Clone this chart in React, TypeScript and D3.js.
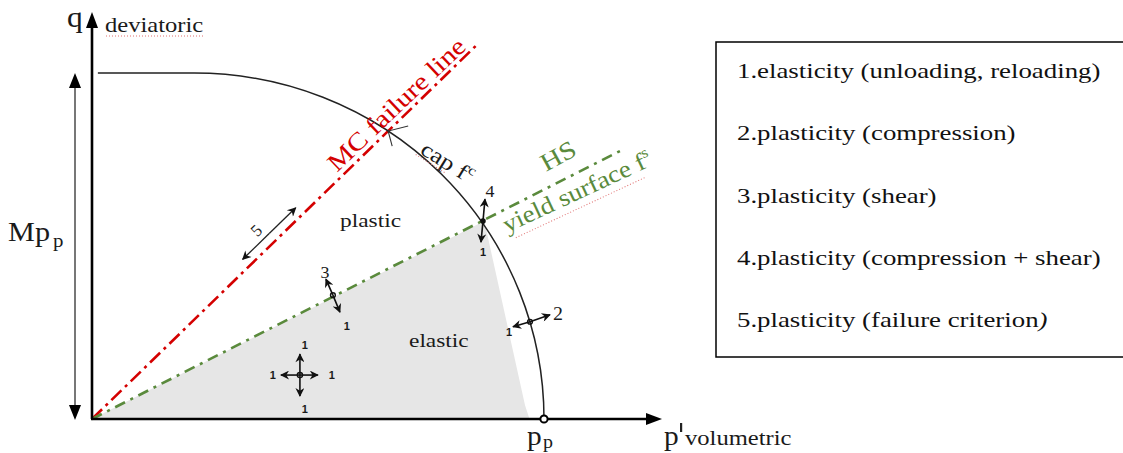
import React from 'react';
import * as d3 from 'd3';

const W = 1123;
const H = 453;

// model parameters (p' normalised by pp, q normalised by M*pp)
const pDomain = [0, 1];
const qDomain = [0, 1];
const capFlatStart = 0.013;
const capCenterP = 0.226;
const mcSlope = 1.27;
const mcEndP = 0.854;
const hsSlope = 0.663;
const hsEndP = 1.173;

const elasticRegion: [number, number][] = [
  [0, 0],
  [0.868, 0.572],
  [0.958, 0.04],
  [0.968, 0],
];

const flowPoints = [
  { id: 'center', p: 0.46, q: 0.127 },
  { id: '3', p: 0.533, q: 0.358 },
  { id: '4', p: 0.865, q: 0.572 },
  { id: '2', p: 0.969, q: 0.281 },
];

const legendItems = [
  '1.elasticity (unloading, reloading)',
  '2.plasticity (compression)',
  '3.plasticity (shear)',
  '4.plasticity (compression + shear)',
  '5.plasticity (failure criterion',
];

const SERIF = '"Liberation Serif", "Times New Roman", serif';
const SANS = '"Liberation Sans", Arial, sans-serif';
const RED = '#d40000';
const GREEN = '#5a8a3c';

function T({ x, y, size, children, fill = '#1a1a1a', rot = 0, sx = 1.2, family = SERIF, anchor = 'start', weight = 'normal' }: any) {
  return (
    <text
      transform={`translate(${x},${y}) rotate(${rot}) scale(${sx},1)`}
      fontSize={size}
      fill={fill}
      fontFamily={family}
      textAnchor={anchor}
      fontWeight={weight}
    >
      {children}
    </text>
  );
}

function Arrow({ x1, y1, x2, y2, w = 1.4, color = '#111' }: any) {
  return <line x1={x1} y1={y1} x2={x2} y2={y2} stroke={color} strokeWidth={w} markerEnd="url(#ah)" />;
}

export default function App() {
  const x = d3.scaleLinear().domain(pDomain).range([92, 544]);
  const y = d3.scaleLinear().domain(qDomain).range([419, 73]);

  const rx = x(1) - x(capCenterP);
  const ry = y(0) - y(1);
  const capPath = `M${x(capFlatStart)},${y(1)} L${x(capCenterP)},${y(1)} A${rx},${ry} 0 0 1 ${x(1)},${y(0)}`;

  const line = d3.line<[number, number]>().x((d) => x(d[0])).y((d) => y(d[1]));
  const mcLine = line([[0, 0], [mcEndP, mcSlope * mcEndP]]);
  const hsLine = line([[0, 0], [hsEndP, hsSlope * hsEndP]]);
  const region = line(elasticRegion) + 'Z';

  const mcAngle = (Math.atan2(y(mcSlope) - y(0), x(1) - x(0)) * 180) / Math.PI;

  // intersection of MC line with cap (for the small cap mark)
  const mcCapP = (() => {
    let lo = 0.3, hi = 0.9;
    for (let i = 0; i < 50; i++) {
      const m = (lo + hi) / 2;
      const f = ((m - capCenterP) / (1 - capCenterP)) ** 2 + (mcSlope * m) ** 2 - 1;
      if (f > 0) hi = m; else lo = m;
    }
    return lo;
  })();
  const cx0 = x(mcCapP);
  const cy0 = y(mcSlope * mcCapP);

  const fp = (id: string) => {
    const d = flowPoints.find((f) => f.id === id)!;
    return [x(d.p), y(d.q)];
  };
  const [c0x, c0y] = fp('center');
  const [p3x, p3y] = fp('3');
  const [p4x, p4y] = fp('4');
  const [p2x, p2y] = fp('2');

  // MC label anchor along the MC line
  const mcLabelP = 0.54;
  const mcLx = x(mcLabelP) + 1;
  const mcLy = y(mcSlope * mcLabelP) - 9;

  // 5 arrow parallel to MC line
  const a5P = 0.392, a5Q = 0.536;
  const a5x = x(a5P), a5y = y(a5Q);
  const rad = (mcAngle * Math.PI) / 180;
  const ux = Math.cos(rad), uy = Math.sin(rad);

  const legX = 716, legY = 42, legW = 420, legH = 315;

  return (
    <svg width={W} height={H} style={{ position: 'absolute', left: 0, top: 0, background: '#fff' }}>
      <defs>
        <marker id="ah" viewBox="0 0 10 10" refX="9" refY="5" markerUnits="userSpaceOnUse" markerWidth="10" markerHeight="9" orient="auto">
          <path d="M0,0 L10,5 L0,10 L3,5 Z" fill="#111" />
        </marker>
      </defs>

      {/* elastic region */}
      <path d={region} fill="#e6e6e6" stroke="none" />

      {/* MC failure line */}
      <path d={mcLine!} stroke={RED} strokeWidth={2.6} fill="none" strokeDasharray="14,5,3,5" />
      {/* HS yield surface */}
      <path d={hsLine!} stroke={GREEN} strokeWidth={2.6} fill="none" strokeDasharray="11,6,3,6" />

      {/* cap */}
      <path d={capPath} stroke="#222" strokeWidth={1.5} fill="none" />
      <polyline points={`${cx0 + 20},${cy0 - 5} ${cx0},${cy0} ${cx0 + 4},${cy0 + 15}`} fill="none" stroke="#333" strokeWidth={1.1} />

      {/* axes */}
      <line x1={x(0)} y1={y(0)} x2={x(0)} y2={26} stroke="#000" strokeWidth={2.6} />
      <polygon points={`${x(0) - 6},${28} ${x(0) + 6},${28} ${x(0)},${12}`} fill="#000" />
      <line x1={x(0) - 1} y1={y(0)} x2={648} y2={y(0)} stroke="#000" strokeWidth={2.6} />
      <polygon points={`${646},${y(0) - 6} ${646},${y(0) + 6} ${662},${y(0)}`} fill="#000" />

      {/* M pp dimension arrow */}
      <line x1={75} y1={86} x2={75} y2={406} stroke="#555" strokeWidth={1.6} />
      <polygon points={`69,88 81,88 75,${y(1)}`} fill="#000" />
      <polygon points={`69,405 81,405 75,${y(0) + 1}`} fill="#000" />

      {/* pp point */}
      <circle cx={x(1)} cy={y(0)} r={3.6} fill="#fff" stroke="#000" strokeWidth={2} />

      {/* axis labels */}
      <T x={67} y={27} size={30} sx={1.05}>q</T>
      <T x={105} y={32} size={20.5}>deviatoric</T>
      <line x1={106} y1={36} x2={203} y2={36} stroke="#e07070" strokeWidth={1} strokeDasharray="1,2" />
      <T x={8} y={241} size={27} sx={1.12}>Mp</T>
      <T x={53} y={247} size={19} sx={1.1}>p</T>
      <T x={527} y={445} size={28} sx={1.05}>p</T>
      <T x={543} y={448} size={19} sx={1.05}>p</T>
      <T x={664} y={445} size={28} sx={1.05}>p</T>
      <rect x={680} y={423} width={2.2} height={9} fill="#222" />
      <T x={685} y={445} size={20.5} sx={1.2}>volumetric</T>

      {/* region labels */}
      <T x={340} y={227} size={19.5}>plastic</T>
      <T x={409} y={347} size={19.5}>elastic</T>

      {/* MC label */}
      <g transform={`translate(${mcLx},${mcLy}) rotate(${mcAngle + 0.5})`}>
        <text fontSize={25} fill={RED} fontFamily={SERIF} transform="scale(1.17,1)">MC failure line</text>
      </g>

      {/* cap label */}
      <g transform={`translate(419,153) rotate(32)`}>
        <text fontSize={22} fill="#1a1a1a" fontFamily={SERIF} transform="scale(1.18,1)">
          cap f<tspan fontSize={14} dy={-9}>c</tspan>
        </text>
        <line x1={-2} y1={3} x2={34} y2={3} stroke="#e07070" strokeWidth={1} strokeDasharray="1,2" />
      </g>

      {/* HS labels */}
      <g transform={`translate(546,172) rotate(-28.5)`}>
        <text fontSize={25} fill={GREEN} fontFamily={SERIF} transform="scale(1.15,1)">HS</text>
      </g>
      <g transform={`translate(507,233) rotate(-25)`}>
        <text fontSize={24} fill={GREEN} fontFamily={SERIF} transform="scale(1.13,1)">
          yield surface f<tspan fontSize={15} dy={-10}>s</tspan>
        </text>
        <line x1={6} y1={8} x2={150} y2={8} stroke="#e07070" strokeWidth={1} strokeDasharray="1,2" />
      </g>

      {/* 5: failure criterion */}
      <line x1={a5x} y1={a5y} x2={a5x + ux * 37} y2={a5y + uy * 37} stroke="#222" strokeWidth={1.3} markerEnd="url(#ah)" />
      <line x1={a5x} y1={a5y} x2={a5x - ux * 37} y2={a5y - uy * 37} stroke="#222" strokeWidth={1.3} markerEnd="url(#ah)" />
      <g transform={`translate(${a5x - 12},${a5y + 4}) rotate(${mcAngle})`}>
        <text fontSize={17} fontFamily={SERIF} fill="#222">5</text>
      </g>

      {/* centre: elastic in all directions */}
      <Arrow x1={c0x} y1={c0y} x2={c0x} y2={c0y - 21} w={1.6} />
      <Arrow x1={c0x} y1={c0y} x2={c0x} y2={c0y + 21} w={1.6} />
      <Arrow x1={c0x} y1={c0y} x2={c0x - 19} y2={c0y} w={1.6} />
      <Arrow x1={c0x} y1={c0y} x2={c0x + 18} y2={c0y} w={1.6} />
      <circle cx={c0x} cy={c0y} r={2.6} fill="none" stroke="#111" strokeWidth={1.4} />
      <T x={c0x + 5} y={c0y - 26} size={11} family={SANS} weight="bold" anchor="middle" sx={1}>1</T>
      <T x={c0x + 5} y={c0y + 38} size={11} family={SANS} weight="bold" anchor="middle" sx={1}>1</T>
      <T x={c0x - 27} y={c0y + 4} size={11} family={SANS} weight="bold" anchor="middle" sx={1}>1</T>
      <T x={c0x + 32} y={c0y + 4} size={11} family={SANS} weight="bold" anchor="middle" sx={1}>1</T>

      {/* 3: shear */}
      <Arrow x1={p3x} y1={p3y} x2={p3x - 7} y2={p3y - 16} w={1.6} />
      <Arrow x1={p3x} y1={p3y} x2={p3x + 7} y2={p3y + 17} w={1.6} />
      <circle cx={p3x} cy={p3y} r={2.4} fill="none" stroke="#111" strokeWidth={1.4} />
      <T x={p3x - 8} y={p3y - 17} size={17} anchor="middle" sx={1.05}>3</T>
      <T x={p3x + 14} y={p3y + 35} size={11} family={SANS} weight="bold" anchor="middle" sx={1}>1</T>

      {/* 4: compression + shear */}
      <Arrow x1={p4x} y1={p4y} x2={p4x + 2} y2={p4y - 22} w={1.6} />
      <Arrow x1={p4x} y1={p4y} x2={p4x - 2} y2={p4y + 21} w={1.6} />
      <circle cx={p4x} cy={p4y} r={2.8} fill="#111" />
      <T x={p4x + 7} y={p4y - 24} size={17} anchor="middle" sx={1.05}>4</T>
      <T x={p4x} y={p4y + 35} size={11} family={SANS} weight="bold" anchor="middle" sx={1}>1</T>

      {/* 2: compression */}
      <Arrow x1={p2x} y1={p2y} x2={p2x + 20} y2={p2y - 7} w={1.6} />
      <Arrow x1={p2x} y1={p2y} x2={p2x - 17} y2={p2y + 5} w={1.6} />
      <circle cx={p2x} cy={p2y} r={2.4} fill="none" stroke="#111" strokeWidth={1.4} />
      <T x={p2x + 28} y={p2y - 2} size={19} anchor="middle" sx={1.05}>2</T>
      <T x={p2x - 21} y={p2y + 14} size={11} family={SANS} weight="bold" anchor="middle" sx={1}>1</T>

      {/* legend */}
      <rect x={legX} y={legY} width={legW} height={legH} fill="#fff" stroke="#000" strokeWidth={1.5} />
      {legendItems.map((t, i) => (
        <T key={i} x={737} y={78 + i * 62.3} size={22} sx={1.22} fill="#111">
          {t}
          {i === 4 ? <tspan fontStyle="italic">)</tspan> : null}
        </T>
      ))}
    </svg>
  );
}
